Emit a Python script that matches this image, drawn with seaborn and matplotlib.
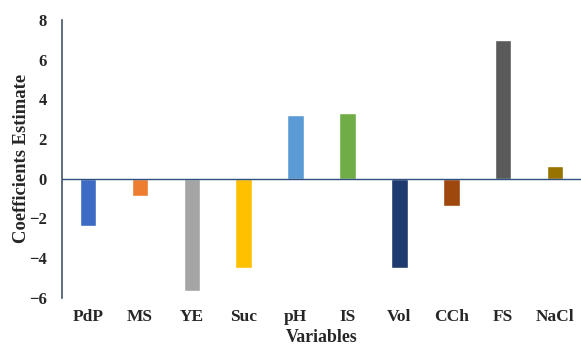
import numpy as np
import matplotlib
matplotlib.use("Agg")
import matplotlib.pyplot as plt
import seaborn as sns
import pandas as pd

variaveis = ["PdP", "MS", "YE", "Suc", "pH", "IS", "Vol", "CCh", "FS", "NaCl"]
coeficientes = [-2.4, -0.85, -5.63, -4.48, 3.22, 3.30, -4.52, -1.39, 6.98, 0.62]
cores = ["#3D6BC4", "#ED7D31", "#A5A5A5", "#FFC000", "#5B9BD5",
         "#70AD47", "#1F3A6E", "#9E480E", "#5A5A5A", "#997300"]

df = pd.DataFrame({"Variables": variaveis, "Coef": coeficientes})

sns.set_style("white")
plt.rcParams["font.family"] = ["Liberation Serif", "DejaVu Serif"]

fig = plt.figure(figsize=(5.81, 3.48), dpi=100)
ax = fig.add_axes([0.107, 0.144, 0.893, 0.799])

sns.barplot(data=df, x="Variables", y="Coef", hue="Variables",
            palette=cores, legend=False, width=0.32, saturation=1, ax=ax)

ax.axhline(0, color="#2F4F7F", linewidth=1.0)
ax.set_ylim(-6, 8)
ax.set_xlim(-0.5, 9.5)
ax.set_yticks([-6, -4, -2, 0, 2, 4, 6, 8])

for s in ["top", "right", "bottom"]:
    ax.spines[s].set_visible(False)
ax.spines["left"].set_color("#44546A")
ax.spines["left"].set_linewidth(1.2)

ax.tick_params(axis="x", length=0, labelsize=12.5, pad=8)
ax.tick_params(axis="y", length=0, labelsize=12, pad=11)
for lab in ax.get_xticklabels() + ax.get_yticklabels():
    lab.set_fontweight("bold")

ax.set_xlabel("Variables", fontsize=12.8, fontweight="bold", labelpad=3)
ax.set_ylabel("Coefficients Estimate", fontsize=13.4, fontweight="bold")
ax.yaxis.set_label_coords(-0.062, 0.5)

fig.savefig("out.png", dpi=100)
